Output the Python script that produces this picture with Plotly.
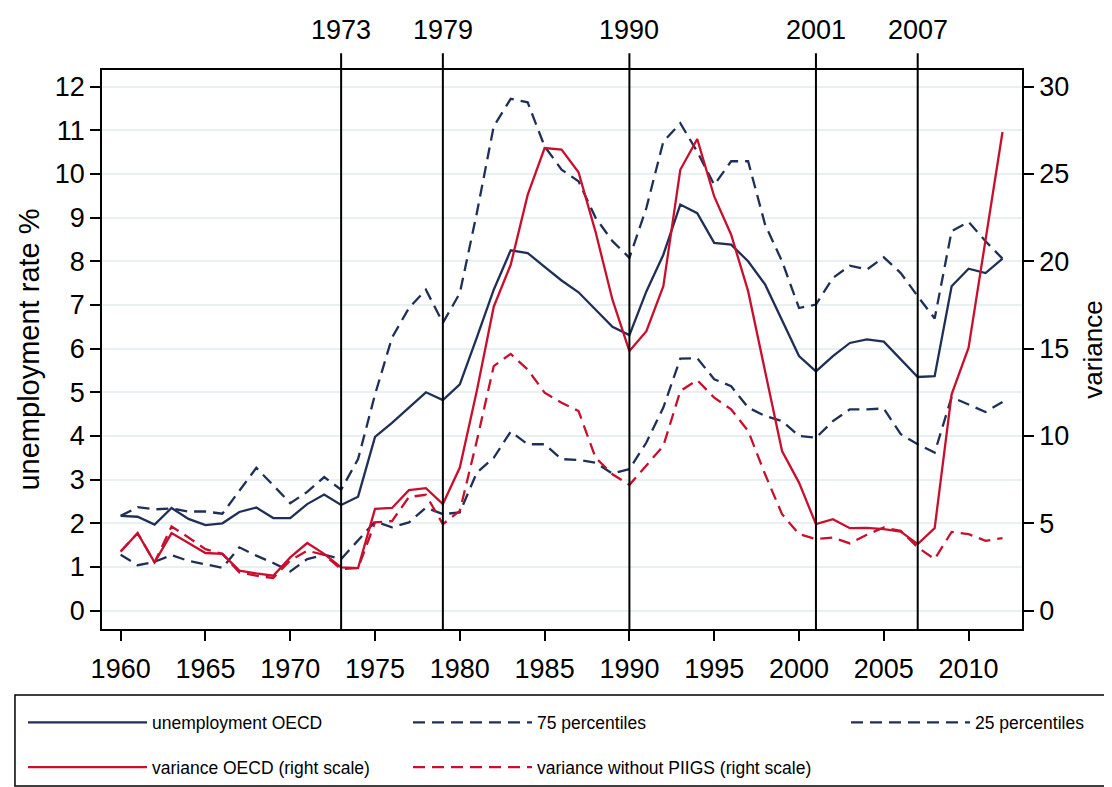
import plotly.graph_objects as go

years = list(range(1960, 2013))

unemp_oecd = [2.17, 2.15, 1.97, 2.35, 2.10, 1.96, 2.00, 2.26, 2.36, 2.12,
              2.12, 2.44, 2.66, 2.42, 2.61, 3.98, 4.30, 4.65, 5.00, 4.82,
              5.18, 6.25, 7.35, 8.25, 8.19, 7.87, 7.56, 7.29, 6.90, 6.50,
              6.31, 7.31, 8.15, 9.30, 9.10, 8.42, 8.38, 8.00, 7.47, 6.63,
              5.83, 5.48, 5.83, 6.13, 6.21, 6.16, 5.75, 5.35, 5.37, 7.43,
              7.83, 7.73, 8.06]

p75 = [2.17, 2.37, 2.32, 2.34, 2.27, 2.27, 2.22, 2.75, 3.27, 2.87,
       2.46, 2.72, 3.06, 2.77, 3.47, 4.95, 6.25, 6.93, 7.35, 6.59,
       7.27, 9.10, 11.09, 11.72, 11.64, 10.63, 10.10, 9.83, 9.00, 8.46,
       8.08, 9.22, 10.74, 11.16, 10.51, 9.75, 10.29, 10.29, 8.84, 8.00,
       6.93, 7.01, 7.62, 7.90, 7.81, 8.09, 7.73, 7.20, 6.69, 8.69,
       8.90, 8.46, 8.06]

p25 = [1.28, 1.04, 1.12, 1.27, 1.14, 1.06, 0.98, 1.45, 1.26, 1.09,
       0.90, 1.18, 1.28, 1.18, 1.62, 2.04, 1.91, 2.02, 2.36, 2.21,
       2.25, 3.16, 3.50, 4.10, 3.81, 3.81, 3.47, 3.45, 3.39, 3.14,
       3.24, 3.85, 4.65, 5.77, 5.78, 5.30, 5.14, 4.65, 4.46, 4.34,
       4.00, 3.96, 4.34, 4.61, 4.61, 4.63, 4.04, 3.81, 3.62, 4.89,
       4.72, 4.55, 4.78]

var_oecd = [3.39, 4.44, 2.76, 4.44, 3.87, 3.30, 3.25, 2.29, 2.13, 2.00,
            3.05, 3.87, 3.25, 2.48, 2.44, 5.83, 5.88, 6.90, 7.01, 6.10,
            8.19, 12.57, 17.40, 19.80, 23.80, 26.48, 26.40, 25.10, 21.70, 17.80,
            14.86, 16.00, 18.57, 25.24, 27.00, 23.71, 21.52, 18.29, 13.71, 9.14,
            7.33, 4.95, 5.24, 4.72, 4.74, 4.67, 4.53, 3.81, 4.72, 12.38,
            15.05, 21.30, 27.40]

var_no_piigs = [3.39, 4.44, 2.76, 4.82, 4.19, 3.52, 3.25, 2.19, 2.00, 1.87,
                2.88, 3.43, 3.20, 2.38, 2.44, 5.05, 5.13, 6.51, 6.63, 4.95,
                5.71, 9.71, 14.00, 14.70, 13.80, 12.48, 11.90, 11.43, 8.76, 7.81,
                7.20, 8.29, 9.43, 12.57, 13.20, 12.19, 11.52, 10.29, 7.81, 5.52,
                4.38, 4.10, 4.19, 3.85, 4.34, 4.76, 4.57, 3.62, 2.95, 4.51,
                4.38, 4.00, 4.15]

event_years = [1973, 1979, 1990, 2001, 2007]
event_labels = ["1973", "1979", "1990", "2001", "2007"]

left_ticks = list(range(0, 13))
right_ticks = list(range(0, 31, 5))
x_ticks = list(range(1960, 2011, 5))

NAVY = "#1f2f55"
RED = "#c8102e"
FONT = "Arial, Liberation Sans, Helvetica, sans-serif"
DASH = "12px,7px"

# figure geometry (page has an 8px body margin)
W, H = 1104, 779
ML, MR, MT, MB = 94, 90, 62, 158
PW = W - ML - MR


def px_to_paper_x(px):
    return (px - ML) / PW


fig = go.Figure()

fig.add_trace(go.Scatter(x=years, y=unemp_oecd, mode="lines", name="unemployment OECD",
                         line=dict(color=NAVY, width=2.3), legend="legend", legendgroup="a"))
fig.add_trace(go.Scatter(x=years, y=p75, mode="lines", name="75 percentiles",
                         line=dict(color=NAVY, width=2.3, dash=DASH), legend="legend2", legendgroup="b"))
fig.add_trace(go.Scatter(x=years, y=p25, mode="lines", name="25 percentiles",
                         line=dict(color=NAVY, width=2.3, dash=DASH), legend="legend3", legendgroup="c"))
fig.add_trace(go.Scatter(x=years, y=var_oecd, mode="lines", name="variance OECD (right scale)",
                         line=dict(color=RED, width=2.3), yaxis="y2", legend="legend", legendgroup="d"))
fig.add_trace(go.Scatter(x=years, y=var_no_piigs, mode="lines", name="variance without PIIGS (right scale)",
                         line=dict(color=RED, width=2.3, dash=DASH), yaxis="y2", legend="legend2", legendgroup="e"))

shapes = []
for yr in event_years:
    shapes.append(dict(type="line", xref="x", yref="paper", x0=yr, x1=yr, y0=0, y1=1.03,
                       line=dict(color="black", width=2), layer="above"))
# legend frame
shapes.append(dict(type="rect", xref="paper", yref="paper", x0=-0.0946, x1=1.0913,
                   y0=-0.281, y1=-0.118, line=dict(color="black", width=1.5),
                   fillcolor="white", layer="below"))

annotations = []
for yr, lab in zip(event_years, event_labels):
    annotations.append(dict(x=yr, y=1.03, xref="x", yref="paper", text=lab, showarrow=False,
                            yanchor="bottom", xanchor="center", yshift=6,
                            font=dict(family=FONT, size=27, color="black")))

leg_common = dict(orientation="v", yanchor="top", xanchor="left", y=-0.135,
                  bgcolor="rgba(0,0,0,0)", borderwidth=0, traceorder="grouped",
                  tracegroupgap=19, itemwidth=119,
                  font=dict(family=FONT, size=17.5, color="black"))

fig.update_layout(
    width=W, height=H,
    margin=dict(l=ML, r=MR, t=MT, b=MB, autoexpand=False),
    paper_bgcolor="white", plot_bgcolor="white",
    font=dict(family=FONT, color="black"),
    showlegend=True,
    shapes=shapes,
    annotations=annotations,
    legend=dict(x=px_to_paper_x(15), **leg_common),
    legend2=dict(x=px_to_paper_x(400), **leg_common),
    legend3=dict(x=px_to_paper_x(838), **leg_common),
    xaxis=dict(range=[1958.9, 2013.15], tickmode="array", tickvals=x_ticks,
               ticks="outside", ticklen=10, tickwidth=1.5, tickcolor="black",
               showline=True, linecolor="black", linewidth=1.5, mirror=True,
               showgrid=False, zeroline=False, ticklabelstandoff=5,
               tickfont=dict(family=FONT, size=27, color="black")),
    yaxis=dict(range=[-0.42, 12.38], tickmode="array", tickvals=left_ticks,
               ticks="outside", ticklen=10, tickwidth=1.5, tickcolor="black",
               showline=True, linecolor="black", linewidth=1.5,
               showgrid=True, gridcolor="#e9f0f2", gridwidth=2, zeroline=False,
               title=dict(text="unemployment rate %", font=dict(family=FONT, size=29, color="black"),
                          standoff=7),
               tickfont=dict(family=FONT, size=27, color="black")),
    yaxis2=dict(range=[-1.05, 30.95], tickmode="array", tickvals=right_ticks,
                overlaying="y", side="right",
                ticks="outside", ticklen=10, tickwidth=1.5, tickcolor="black",
                showline=True, linecolor="black", linewidth=1.5,
                showgrid=False, zeroline=False,
                title=dict(text="variance", font=dict(family=FONT, size=26, color="black"),
                           standoff=16),
                tickfont=dict(family=FONT, size=27, color="black")),
)

fig.write_html("out.html")
